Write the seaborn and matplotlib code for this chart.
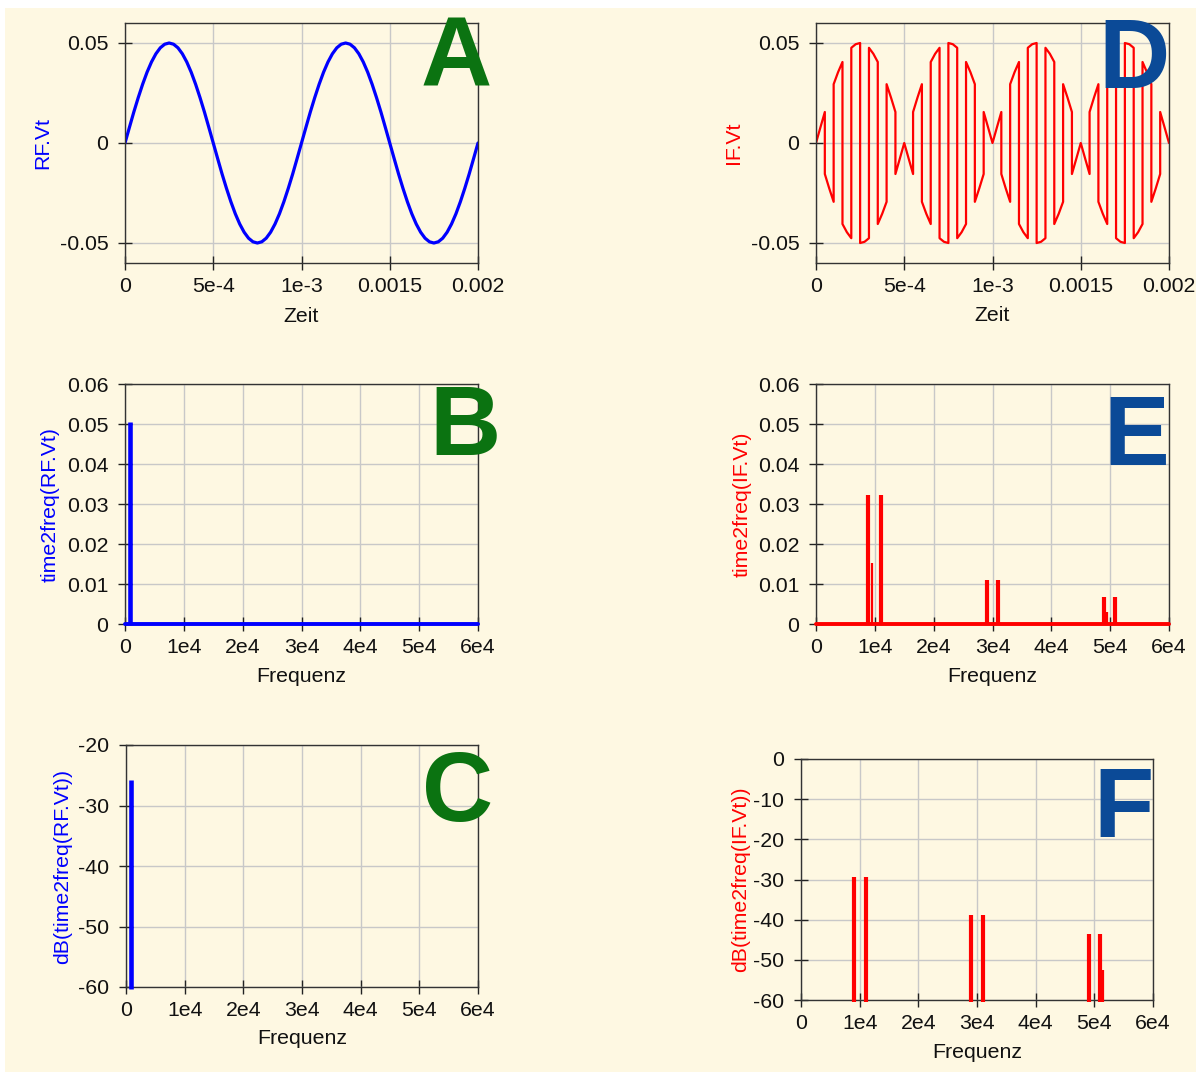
import numpy as np
import pandas as pd
import matplotlib
matplotlib.use("Agg")
import matplotlib.pyplot as plt
import seaborn as sns
from matplotlib.patches import Rectangle

# ---------------- data ----------------
# time samples in seconds (every 25 us over 2 ms)
time_s = [0.0, 0.000025, 0.00005, 0.000075, 0.0001, 0.000125, 0.00015, 0.000175,
          0.0002, 0.000225, 0.00025, 0.000275, 0.0003, 0.000325, 0.00035, 0.000375,
          0.0004, 0.000425, 0.00045, 0.000475, 0.0005, 0.000525, 0.00055, 0.000575,
          0.0006, 0.000625, 0.00065, 0.000675, 0.0007, 0.000725, 0.00075, 0.000775,
          0.0008, 0.000825, 0.00085, 0.000875, 0.0009, 0.000925, 0.00095, 0.000975,
          0.001, 0.001025, 0.00105, 0.001075, 0.0011, 0.001125, 0.00115, 0.001175,
          0.0012, 0.001225, 0.00125, 0.001275, 0.0013, 0.001325, 0.00135, 0.001375,
          0.0014, 0.001425, 0.00145, 0.001475, 0.0015, 0.001525, 0.00155, 0.001575,
          0.0016, 0.001625, 0.00165, 0.001675, 0.0017, 0.001725, 0.00175, 0.001775,
          0.0018, 0.001825, 0.00185, 0.001875, 0.0019, 0.001925, 0.00195, 0.001975,
          0.002]
# RF.Vt values at those times
rf_vt = [0.0, 0.0078, 0.0155, 0.0227, 0.0294, 0.0354, 0.0405, 0.0446, 0.0476, 0.0494,
         0.0500, 0.0494, 0.0476, 0.0446, 0.0405, 0.0354, 0.0294, 0.0227, 0.0155, 0.0078,
         0.0, -0.0078, -0.0155, -0.0227, -0.0294, -0.0354, -0.0405, -0.0446, -0.0476, -0.0494,
         -0.0500, -0.0494, -0.0476, -0.0446, -0.0405, -0.0354, -0.0294, -0.0227, -0.0155, -0.0078,
         0.0, 0.0078, 0.0155, 0.0227, 0.0294, 0.0354, 0.0405, 0.0446, 0.0476, 0.0494,
         0.0500, 0.0494, 0.0476, 0.0446, 0.0405, 0.0354, 0.0294, 0.0227, 0.0155, 0.0078,
         0.0, -0.0078, -0.0155, -0.0227, -0.0294, -0.0354, -0.0405, -0.0446, -0.0476, -0.0494,
         -0.0500, -0.0494, -0.0476, -0.0446, -0.0405, -0.0354, -0.0294, -0.0227, -0.0155, -0.0078,
         0.0]
# LO polarity in each 50 us half period (square wave 10 kHz)
lo_sign = [1, -1, 1, -1, 1, -1, 1, -1, 1, -1, 1, -1, 1, -1, 1, -1, 1, -1, 1, -1,
           1, -1, 1, -1, 1, -1, 1, -1, 1, -1, 1, -1, 1, -1, 1, -1, 1, -1, 1, -1]

# spectra
freq_span = [0, 60000]
rf_spec_freq = [900]
rf_spec_amp = [0.0504]
rf_db_freq = [900]
rf_db = [-25.8]
db_floor = -60.4

if_spec_freq = [8900, 11000, 29000, 31000, 48900, 50900]
if_spec_amp = [0.0323, 0.0323, 0.0109, 0.0109, 0.0067, 0.0067]
if_spec_sh_freq = [9450, 49400]
if_spec_sh_amp = [0.0152, 0.0029]

if_db_freq = [9100, 11100, 29000, 31100, 49100, 51000]
if_db = [-29.5, -29.5, -38.8, -38.8, -43.5, -43.5]
if_db_sh_freq = [51500]
if_db_sh = [-52.5]

# ticks
time_ticks = [0, 0.0005, 0.001, 0.0015, 0.002]
time_ticklabels = ["0", "5e-4", "1e-3", "0.0015", "0.002"]
vt_ticks = [-0.05, 0, 0.05]
vt_ticklabels = ["-0.05", "0", "0.05"]
freq_ticks = [0, 10000, 20000, 30000, 40000, 50000, 60000]
freq_ticklabels = ["0", "1e4", "2e4", "3e4", "4e4", "5e4", "6e4"]
spec_ticks = [0, 0.01, 0.02, 0.03, 0.04, 0.05, 0.06]
spec_ticklabels = ["0", "0.01", "0.02", "0.03", "0.04", "0.05", "0.06"]
rfdb_ticks = [-60, -50, -40, -30, -20]
rfdb_ticklabels = ["-60", "-50", "-40", "-30", "-20"]
ifdb_ticks = [-60, -50, -40, -30, -20, -10, 0]
ifdb_ticklabels = ["-60", "-50", "-40", "-30", "-20", "-10", "0"]

# ---------------- style ----------------
BG = "#FEF8E2"
BLUE = "#0000FF"
RED = "#FF0000"
GREEN_L = "#0B7311"
BLUE_L = "#0B4A97"
TXT = "#111111"
FS = 15.3

sns.set_theme(style="whitegrid", rc={
    "axes.facecolor": BG,
    "figure.facecolor": "white",
    "grid.color": "#C8C8C8",
    "grid.linewidth": 1.0,
    "axes.edgecolor": "#333333",
    "axes.linewidth": 1.0,
})
plt.rcParams["font.family"] = ["Liberation Sans", "DejaVu Sans"]

W, H = 1196, 1072
fig = plt.figure(figsize=(W / 100, H / 100), dpi=100)
fig.patches.append(Rectangle((5 / W, 0), 1, (H - 8) / H, transform=fig.transFigure,
                             facecolor=BG, edgecolor="none", zorder=-10))


def make_ax(left, right, top, bottom):
    return fig.add_axes([left / W, (H - bottom) / H, (right - left) / W, (bottom - top) / H])


def style_ax(ax, xt, xtl, yt, ytl, xlim, ylim, xlabel, ylabel, ycolor,
             ylab_right_px, left_px, width_px, xlab_frac):
    ax.set_xlim(*xlim)
    ax.set_ylim(*ylim)
    ax.set_xticks(xt)
    ax.set_xticklabels(xtl)
    ax.set_yticks(yt)
    ax.set_yticklabels(ytl)
    ax.tick_params(axis="both", which="major", direction="inout", length=10, width=1.0,
                   color="#222222", labelsize=FS, labelcolor=TXT, bottom=True, left=True)
    ax.tick_params(axis="x", pad=5.2)
    ax.tick_params(axis="y", pad=7.0)
    ax.grid(True, color="#C8C8C8", linewidth=1.0)
    ax.set_axisbelow(True)
    for s in ax.spines.values():
        s.set_visible(True)
        s.set_color("#333333")
        s.set_linewidth(1.0)
    ax.set_xlabel(xlabel, fontsize=FS, color=TXT)
    ax.set_ylabel(ylabel, fontsize=FS, color=ycolor)
    ax.yaxis.set_label_coords((ylab_right_px - left_px) / width_px, 0.5)
    ax.xaxis.set_label_coords(0.5, xlab_frac)


# ---- A: RF.Vt ----
axA = make_ax(125, 478, 23, 263)
dfA = pd.DataFrame({"t": time_s, "v": rf_vt})
sns.lineplot(data=dfA, x="t", y="v", ax=axA, color=BLUE, linewidth=2.3,
             sort=False, estimator=None)
style_ax(axA, time_ticks, time_ticklabels, vt_ticks, vt_ticklabels,
         (0, 0.002), (-0.06, 0.06), "Zeit", "RF.Vt", BLUE, 52, 125, 353, -0.182)

# ---- D: IF.Vt ----
axD = make_ax(816, 1169, 23, 263)
if_t, if_v = [], []
for k, s in enumerate(lo_sign):
    for j in (2 * k, 2 * k + 1, 2 * k + 2):
        if_t.append(time_s[j])
        if_v.append(rf_vt[j] * s)
dfD = pd.DataFrame({"t": if_t, "v": if_v})
sns.lineplot(data=dfD, x="t", y="v", ax=axD, color=RED, linewidth=1.6,
             sort=False, estimator=None)
style_ax(axD, time_ticks, time_ticklabels, vt_ticks, vt_ticklabels,
         (0, 0.002), (-0.06, 0.06), "Zeit", "IF.Vt", RED, 743, 816, 353, -0.180)

# ---- B: time2freq(RF.Vt) ----
axB = make_ax(125, 478, 384, 624)
sns.lineplot(x=freq_span, y=[0, 0], ax=axB, color=BLUE, linewidth=2.8)
axB.lines[-1].set_clip_on(False)
axB.lines[-1].set_zorder(3)
axB.vlines(rf_spec_freq, 0, rf_spec_amp, colors=BLUE, linewidth=3.3, zorder=3)
style_ax(axB, freq_ticks, freq_ticklabels, spec_ticks, spec_ticklabels,
         (0, 60000), (0, 0.06), "Frequenz", "time2freq(RF.Vt)", BLUE, 60, 125, 353, -0.180)

# ---- E: time2freq(IF.Vt) ----
axE = make_ax(816, 1169, 384, 624)
sns.lineplot(x=freq_span, y=[0, 0], ax=axE, color=RED, linewidth=2.8)
axE.lines[-1].set_clip_on(False)
axE.lines[-1].set_zorder(3)
axE.vlines(if_spec_freq, 0, if_spec_amp, colors=RED, linewidth=3.0, zorder=3)
axE.vlines(if_spec_sh_freq, 0, if_spec_sh_amp, colors=RED, linewidth=1.6, zorder=3)
style_ax(axE, freq_ticks, freq_ticklabels, spec_ticks, spec_ticklabels,
         (0, 60000), (0, 0.06), "Frequenz", "time2freq(IF.Vt)", RED, 752, 816, 353, -0.180)

# ---- C: dB(time2freq(RF.Vt)) ----
axC = make_ax(126, 478, 745, 987)
lc = axC.vlines(rf_db_freq, db_floor, rf_db, colors=BLUE, linewidth=3.3, zorder=3)
lc.set_clip_on(False)
style_ax(axC, freq_ticks, freq_ticklabels, rfdb_ticks, rfdb_ticklabels,
         (0, 60000), (-60, -20), "Frequenz", "dB(time2freq(RF.Vt))", BLUE, 72, 126, 352, -0.175)

# ---- F: dB(time2freq(IF.Vt)) ----
axF = make_ax(801, 1153, 759, 1000)
lf = axF.vlines(if_db_freq, db_floor, if_db, colors=RED, linewidth=3.0, zorder=3)
lf.set_clip_on(False)
lf2 = axF.vlines(if_db_sh_freq, db_floor, if_db_sh, colors=RED, linewidth=1.6, zorder=3)
lf2.set_clip_on(False)
style_ax(axF, freq_ticks, freq_ticklabels, ifdb_ticks, ifdb_ticklabels,
         (0, 60000), (-60, 0), "Frequenz", "dB(time2freq(IF.Vt))", RED, 750, 801, 352, -0.178)

# ---- panel letters ----
LFS = 71
letters = [("A", 421, 85, GREEN_L), ("B", 429, 455, GREEN_L), ("C", 422, 821, GREEN_L),
           ("D", 1098, 88, BLUE_L), ("E", 1103, 465, BLUE_L), ("F", 1093, 837, BLUE_L)]
for ch, x, y, c in letters:
    fig.text(x / W, (H - y) / H, ch, fontsize=LFS, fontweight="bold", color=c,
             ha="left", va="baseline", zorder=20)

fig.savefig("out.png", dpi=100, facecolor="white")
